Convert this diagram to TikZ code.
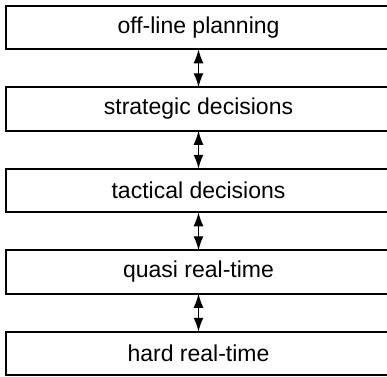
\documentclass[tikz,border=0pt]{standalone}
\usepackage{fontspec}
\setmainfont{Liberation Sans}
\usetikzlibrary{arrows.meta, positioning}

\begin{document}
\begin{tikzpicture}[
  lbox/.style={draw=black, line width=1.6pt, minimum width=385pt, minimum height=43.5pt, inner sep=0pt, outer sep=0pt, font=\fontsize{23}{27}\selectfont},
  conn/.style={line width=1.4pt, {Latex[length=14pt,width=10pt]}-{Latex[length=14pt,width=10pt]}},
  node distance=38pt
]
  \useasboundingbox (0,0) rectangle (387pt,-376pt);
  \node[lbox] (offline) at (198.5pt,-27.5pt) {off-line planning};
  \node[lbox, below=of offline] (strategic) {strategic decisions};
  \node[lbox, below=of strategic] (tactical) {tactical decisions};
  \node[lbox, below=of tactical] (quasi) {quasi real-time};
  \node[lbox, below=of quasi] (hard) {hard real-time};
  \foreach \a/\b in {offline/strategic, strategic/tactical, tactical/quasi, quasi/hard}
    \draw[conn] (\a) -- (\b);
\end{tikzpicture}
\end{document}
